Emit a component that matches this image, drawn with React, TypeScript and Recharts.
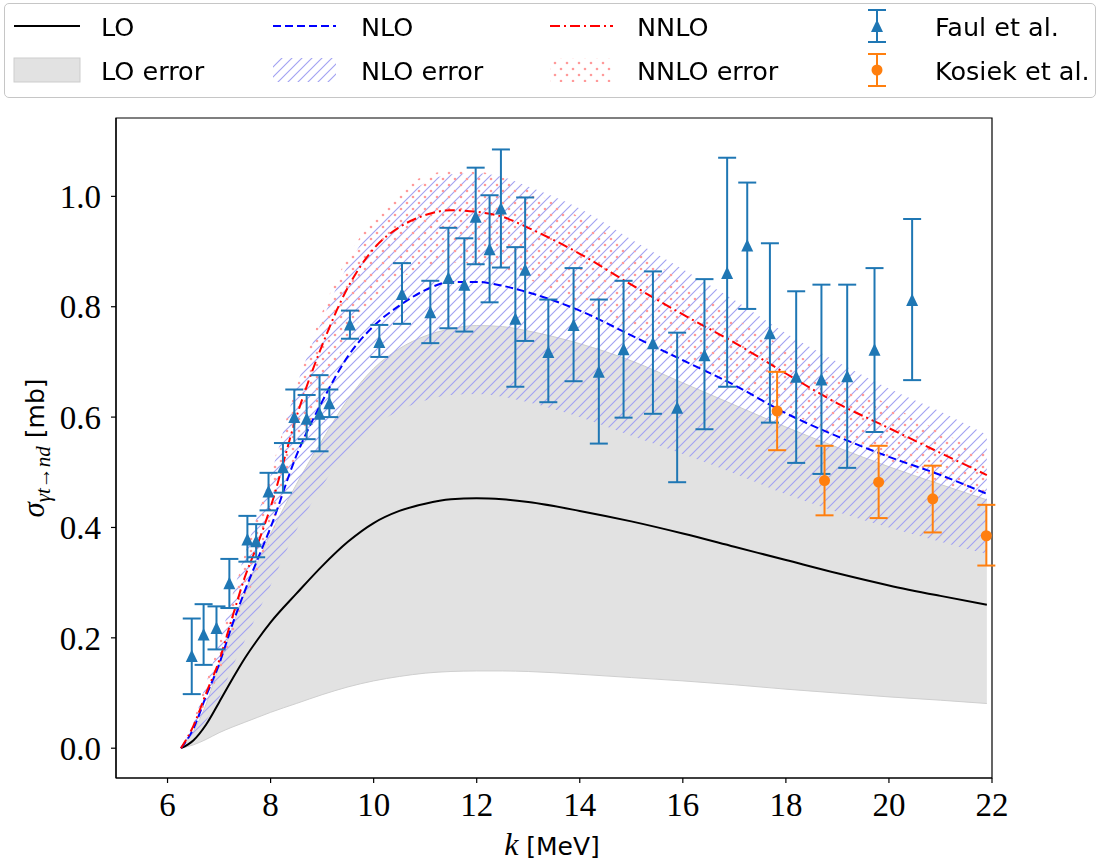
import React from 'react';
import { ComposedChart, XAxis, YAxis, Area, Line, Scatter, ErrorBar, ReferenceArea } from 'recharts';

// ---- theory curves (k in MeV, sigma in mb) ----
const kGrid = [6.26, 6.5, 6.75, 7.0, 7.25, 7.5, 7.75, 8.0, 8.5, 9.0, 9.5, 10.0, 10.5, 11.0, 11.5, 12.0, 12.5, 13.0, 14.0, 15.0, 16.0, 17.0, 18.0, 19.0, 20.0, 21.0, 21.9];
const loCentral = [0, 0.014, 0.043, 0.083, 0.124, 0.163, 0.197, 0.228, 0.28, 0.33, 0.374, 0.408, 0.43, 0.443, 0.451, 0.453, 0.451, 0.446, 0.43, 0.411, 0.389, 0.365, 0.341, 0.317, 0.295, 0.276, 0.26];
const loUpper = [0, 0.03, 0.08, 0.15, 0.218, 0.282, 0.338, 0.388, 0.478, 0.558, 0.632, 0.688, 0.724, 0.747, 0.76, 0.766, 0.764, 0.756, 0.733, 0.702, 0.662, 0.622, 0.582, 0.545, 0.51, 0.478, 0.45];
const loLower = [0, 0.006, 0.016, 0.028, 0.038, 0.047, 0.056, 0.065, 0.081, 0.097, 0.111, 0.122, 0.13, 0.136, 0.139, 0.14, 0.14, 0.139, 0.134, 0.128, 0.122, 0.115, 0.107, 0.1, 0.093, 0.087, 0.081];
const nloCentral = [0, 0.035, 0.095, 0.152, 0.222, 0.285, 0.343, 0.4, 0.53, 0.628, 0.71, 0.765, 0.802, 0.83, 0.845, 0.845, 0.838, 0.826, 0.793, 0.748, 0.703, 0.658, 0.607, 0.565, 0.528, 0.495, 0.461];
const nloUpper = [0, 0.045, 0.118, 0.19, 0.275, 0.352, 0.424, 0.494, 0.655, 0.775, 0.875, 0.945, 0.99, 1.025, 1.04, 1.042, 1.035, 1.018, 0.978, 0.922, 0.868, 0.812, 0.752, 0.7, 0.652, 0.61, 0.568];
const nloLower = [0, 0.025, 0.05, 0.09, 0.145, 0.195, 0.245, 0.295, 0.395, 0.475, 0.54, 0.583, 0.612, 0.63, 0.64, 0.642, 0.637, 0.627, 0.6, 0.566, 0.533, 0.498, 0.46, 0.428, 0.4, 0.374, 0.352];
const nnloCentral = [0, 0.04, 0.1, 0.158, 0.235, 0.31, 0.37, 0.437, 0.6, 0.73, 0.835, 0.905, 0.944, 0.966, 0.975, 0.972, 0.963, 0.943, 0.896, 0.84, 0.786, 0.735, 0.679, 0.625, 0.58, 0.535, 0.495];
const nnloUpper = [0, 0.05, 0.12, 0.19, 0.27, 0.352, 0.425, 0.5, 0.655, 0.79, 0.89, 0.96, 1.012, 1.037, 1.046, 1.045, 1.034, 1.012, 0.962, 0.905, 0.846, 0.78, 0.725, 0.672, 0.622, 0.574, 0.532];
const nnloLower = [0, 0.032, 0.085, 0.135, 0.2, 0.265, 0.32, 0.38, 0.525, 0.64, 0.74, 0.81, 0.85, 0.872, 0.88, 0.878, 0.868, 0.85, 0.808, 0.76, 0.71, 0.662, 0.612, 0.565, 0.522, 0.482, 0.45];

// ---- Faul et al. ----
const faulK = [6.47, 6.70, 6.95, 7.20, 7.55, 7.72, 7.96, 8.24, 8.46, 8.70, 8.95, 9.14, 9.54, 10.11, 10.55, 11.10, 11.45, 11.76, 11.98, 12.25, 12.47, 12.75, 12.94, 13.39, 13.88, 14.37, 14.85, 15.42, 15.89, 16.42, 16.86, 17.25, 17.69, 18.20, 18.69, 19.19, 19.72, 20.45];
const faulV = [0.167, 0.206, 0.218, 0.299, 0.378, 0.375, 0.465, 0.509, 0.600, 0.597, 0.606, 0.625, 0.768, 0.736, 0.823, 0.790, 0.852, 0.840, 0.963, 0.904, 0.978, 0.778, 0.867, 0.718, 0.767, 0.682, 0.723, 0.734, 0.617, 0.712, 0.861, 0.911, 0.752, 0.673, 0.668, 0.674, 0.722, 0.812];
const faulHi = [0.235, 0.261, 0.257, 0.343, 0.421, 0.406, 0.499, 0.553, 0.650, 0.640, 0.676, 0.650, 0.793, 0.767, 0.879, 0.847, 0.943, 0.924, 1.052, 1.002, 1.085, 0.908, 0.998, 0.813, 0.870, 0.813, 0.847, 0.864, 0.753, 0.850, 1.070, 1.025, 0.915, 0.828, 0.840, 0.840, 0.870, 0.959];
const faulLo = [0.098, 0.151, 0.179, 0.254, 0.338, 0.346, 0.431, 0.463, 0.553, 0.560, 0.538, 0.600, 0.742, 0.709, 0.769, 0.734, 0.761, 0.755, 0.877, 0.808, 0.871, 0.655, 0.738, 0.627, 0.665, 0.552, 0.599, 0.606, 0.482, 0.578, 0.655, 0.796, 0.590, 0.517, 0.497, 0.508, 0.573, 0.667];

// ---- Kosiek et al. ----
const kosiekK = [17.83, 18.75, 19.80, 20.85, 21.89];
const kosiekV = [0.611, 0.485, 0.482, 0.452, 0.385];
const kosiekHi = [0.682, 0.548, 0.548, 0.512, 0.441];
const kosiekLo = [0.540, 0.422, 0.417, 0.391, 0.331];

// ---- axes ----
const xTicks = [6, 8, 10, 12, 14, 16, 18, 20, 22];
const yTicks = [0, 0.2, 0.4, 0.6, 0.8, 1.0];
const xDomain: [number, number] = [5, 22];
const yDomain: [number, number] = [-0.054, 1.142];

const curveRows = kGrid.map((k, i) => ({
  k,
  lo: loCentral[i],
  loBand: [loLower[i], loUpper[i]],
  nlo: nloCentral[i],
  nloBand: [nloLower[i], nloUpper[i]],
  nnlo: nnloCentral[i],
  nnloBand: [nnloLower[i], nnloUpper[i]],
}));
const faulRows = faulK.map((k, i) => ({ k, v: faulV[i], err: [faulV[i] - faulLo[i], faulHi[i] - faulV[i]] }));
const kosiekRows = kosiekK.map((k, i) => ({ k, v: kosiekV[i], err: [kosiekV[i] - kosiekLo[i], kosiekHi[i] - kosiekV[i]] }));

const serif = '"Liberation Serif", "DejaVu Serif", serif';
const sans = '"DejaVu Sans", sans-serif';
const BLUE = '#1f77b4';
const ORANGE = '#ff7f0e';
const HATCH = '#a2a2f2';
const DOTC = '#ff9a9a';

function Triangle(props: any) {
  const { cx, cy } = props;
  if (cx == null || cy == null) return null;
  return <path d={`M${cx},${cy - 6.5} L${cx + 6},${cy + 6} L${cx - 6},${cy + 6} Z`} fill={BLUE} />;
}
function Circ(props: any) {
  const { cx, cy } = props;
  if (cx == null || cy == null) return null;
  return <circle cx={cx} cy={cy} r={5.5} fill={ORANGE} />;
}

function XLabel(props: any) {
  const vb = props.viewBox || { x: 108, y: 770, width: 876, height: 89 };
  const cx = vb.x + vb.width / 2 - 2;
  return (
    <text x={cx} y={vb.y + 77} textAnchor="middle" fill="#000">
      <tspan fontFamily={serif} fontStyle="italic" fontSize={32}>k</tspan>
      <tspan fontFamily={sans} fontSize={25}> [MeV]</tspan>
    </text>
  );
}
function YLabel(props: any) {
  const vb = props.viewBox || { x: 0, y: 110, width: 108, height: 660 };
  const x = 35.5;
  const y = vb.y + vb.height / 2;
  return (
    <text x={x} y={y} transform={`rotate(-90, ${x}, ${y})`} textAnchor="middle" fill="#000">
      <tspan fontFamily={serif} fontStyle="italic" fontSize={31}>σ</tspan>
      <tspan fontFamily={serif} fontStyle="italic" fontSize={21} dy={6}>γt→nd</tspan>
      <tspan fontFamily={sans} fontSize={25} dy={-6}> [mb]</tspan>
    </text>
  );
}

function PatternDefs({ prefix }: { prefix: string }) {
  return (
    <defs>
      <pattern id={`${prefix}hatch`} patternUnits="userSpaceOnUse" width={10} height={10}>
        <path d="M-2.5,2.5 l5,-5 M0,10 l10,-10 M7.5,12.5 l5,-5" stroke={HATCH} strokeWidth={1.15} />
      </pattern>
      <pattern id={`${prefix}dots`} patternUnits="userSpaceOnUse" width={12} height={12}>
        <circle cx={3} cy={3} r={1.3} fill={DOTC} />
        <circle cx={9} cy={9} r={1.3} fill={DOTC} />
      </pattern>
    </defs>
  );
}

function LegendBox() {
  const t1 = 36;
  const t2 = 80;
  const r1 = 26;
  const r2 = 70;
  const txt = { fontFamily: sans, fontSize: 25.5, fill: '#000' } as any;
  return (
    <>
      <div style={{ position: 'fixed', left: 4, top: 3, width: 1092, height: 95, border: '1.5px solid #c6c6c6', borderRadius: 5, background: 'rgba(255,255,255,0.85)', boxSizing: 'border-box', pointerEvents: 'none' }} />
      <svg width={1098} height={102} style={{ position: 'fixed', left: 0, top: 0, overflow: 'visible', pointerEvents: 'none' }}>
        <PatternDefs prefix="leg" />
        {/* row 1 */}
        <line x1={14} x2={80} y1={r1} y2={r1} stroke="#000" strokeWidth={2} />
        <text x={101} y={t1} {...txt}>LO</text>
        <line x1={273} x2={336} y1={r1} y2={r1} stroke="#0000ff" strokeWidth={2} strokeDasharray="8 4" />
        <text x={361} y={t1} {...txt}>NLO</text>
        <line x1={550} x2={613} y1={r1} y2={r1} stroke="#ff0000" strokeWidth={2} strokeDasharray="10 4 2 4" />
        <text x={637} y={t1} {...txt}>NNLO</text>
        <g stroke={BLUE} strokeWidth={2}>
          <line x1={877} x2={877} y1={10} y2={42} />
          <line x1={868} x2={886} y1={10} y2={10} />
          <line x1={868} x2={886} y1={42} y2={42} />
        </g>
        <path d={`M877,${r1 - 6.5} L883,${r1 + 6} L871,${r1 + 6} Z`} fill={BLUE} />
        <text x={935} y={t1} {...txt}>Faul et al.</text>
        {/* row 2 */}
        <rect x={14} y={58} width={66} height={24} fill="#e2e2e2" stroke="#cdcdcd" strokeWidth={1} />
        <text x={101} y={t2} {...txt}>LO error</text>
        <rect x={273} y={58} width={63} height={24} fill="url(#leghatch)" />
        <text x={361} y={t2} {...txt}>NLO error</text>
        <rect x={550} y={58} width={63} height={24} fill="url(#legdots)" />
        <text x={637} y={t2} {...txt}>NNLO error</text>
        <g stroke={ORANGE} strokeWidth={2}>
          <line x1={877} x2={877} y1={54} y2={86} />
          <line x1={868} x2={886} y1={54} y2={54} />
          <line x1={868} x2={886} y1={86} y2={86} />
        </g>
        <circle cx={877} cy={r2} r={5.5} fill={ORANGE} />
        <text x={935} y={t2} {...txt}>Kosiek et al.</text>
      </svg>
    </>
  );
}

export default function App() {
  const tickStyle = { fontFamily: serif, fontSize: 33, fill: '#000' } as any;
  return (
    <div style={{ position: 'relative', width: 1090, height: 859 }}>
      <ComposedChart width={1090} height={859} data={curveRows} margin={{ top: 110, right: 106, bottom: 0, left: 0 }}>
        <PatternDefs prefix="plot" />
        <XAxis
          dataKey="k"
          type="number"
          domain={xDomain}
          allowDataOverflow
          ticks={xTicks}
          interval={0}
          height={89}
          tickSize={5}
          tickMargin={10}
          tick={tickStyle}
          stroke="#000"
          axisLine={{ stroke: '#000', strokeWidth: 1.2 }}
          tickLine={{ stroke: '#000', strokeWidth: 1.2 }}
          label={<XLabel />}
        />
        <YAxis
          type="number"
          domain={yDomain}
          allowDataOverflow
          ticks={yTicks}
          interval={0}
          width={108}
          tickSize={5}
          tickMargin={10}
          tick={tickStyle}
          tickFormatter={(v: number) => v.toFixed(1)}
          axisLine={{ stroke: '#000', strokeWidth: 1.2 }}
          tickLine={{ stroke: '#000', strokeWidth: 1.2 }}
          label={<YLabel />}
        />
        <Area dataKey="loBand" type="monotone" fill="#e2e2e2" fillOpacity={1} stroke="#cfcfcf" strokeWidth={1} dot={false} activeDot={false} isAnimationActive={false} />
        <Area dataKey="nloBand" type="monotone" fill="url(#plothatch)" fillOpacity={1} stroke="none" dot={false} activeDot={false} isAnimationActive={false} />
        <Area dataKey="nnloBand" type="monotone" fill="url(#plotdots)" fillOpacity={1} stroke="none" dot={false} activeDot={false} isAnimationActive={false} />
        <Line dataKey="lo" type="monotone" stroke="#000" strokeWidth={2} dot={false} activeDot={false} isAnimationActive={false} />
        <Line dataKey="nlo" type="monotone" stroke="#0000ff" strokeWidth={2} strokeDasharray="8 4" dot={false} activeDot={false} isAnimationActive={false} />
        <Line dataKey="nnlo" type="monotone" stroke="#ff0000" strokeWidth={2} strokeDasharray="10 4 2 4" dot={false} activeDot={false} isAnimationActive={false} />
        <Scatter data={faulRows} dataKey="v" shape={<Triangle />} isAnimationActive={false}>
          <ErrorBar dataKey="err" direction="y" width={9} stroke={BLUE} strokeWidth={2} isAnimationActive={false} />
        </Scatter>
        <Scatter data={kosiekRows} dataKey="v" shape={<Circ />} isAnimationActive={false}>
          <ErrorBar dataKey="err" direction="y" width={9} stroke={ORANGE} strokeWidth={2} isAnimationActive={false} />
        </Scatter>
        <ReferenceArea x1={5} x2={22} y1={-0.054} y2={1.142} fill="none" fillOpacity={0} stroke="#000" strokeWidth={1.2} ifOverflow="visible" />
      </ComposedChart>
      <LegendBox />
    </div>
  );
}
